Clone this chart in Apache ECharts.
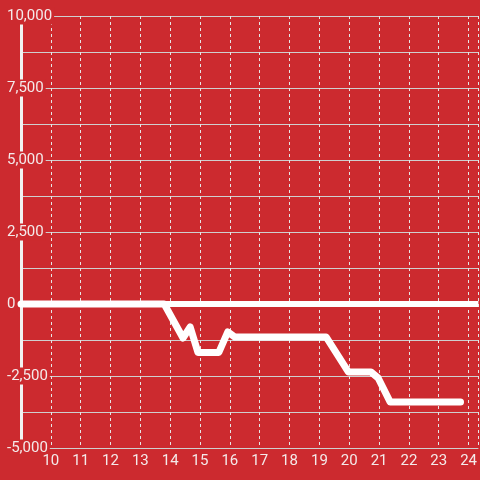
<!DOCTYPE html>
<html lang="en" style="height: 100%">
<head>
<meta charset="utf-8">
<title>Step line chart</title>
</head>
<body style="height: 100%; margin: 0">
<div id="container" style="width: 480px; height: 480px"></div>

<script type="text/javascript" src="https://cdn.jsdelivr.net/npm/echarts/dist/echarts.min.js"></script>

<script type="text/javascript">

var bgColor = '#cc2a2f';

// data
var xValues = [9, 13.8, 14.43, 14.67, 14.93, 15.63, 15.93, 16.17, 19.23, 19.97, 20.73, 20.97, 21.37, 21.6, 23.73];
var yValues = [0, 0, -1180, -800, -1680, -1680, -970, -1150, -1150, -2360, -2360, -2570, -3400, -3400, -3400];

var xMin = 9, xMax = 24.33;
var yMin = -5000, yMax = 10000;

var dom = document.getElementById('container');
var myChart = echarts.init(dom);
var option;

option = {
    backgroundColor: bgColor,
    animation: false,
    grid: {
        left: 21,
        right: 0,
        top: 16,
        bottom: 32
    },
    xAxis: {
        type: 'value',
        min: xMin,
        max: xMax,
        interval: 1,
        axisLine: { show: false },
        axisTick: { show: false },
        axisLabel: {
            color: '#f4eaea',
            fontFamily: 'Roboto',
            fontSize: 15,
            margin: 6,
            showMaxLabel: false,
            formatter: function (v) {
                return (v >= 10 && Math.abs(v - Math.round(v)) < 1e-6) ? String(Math.round(v)) : '';
            }
        },
        splitLine: {
            show: true,
            lineStyle: { color: '#e6e6e6', width: 1, type: [3, 3] }
        }
    },
    yAxis: {
        type: 'value',
        min: yMin,
        max: yMax,
        interval: 2500,
        axisLine: {
            show: true,
            lineStyle: { color: '#f2f2f2', width: 3 }
        },
        axisTick: { show: false },
        minorTick: { show: false, splitNumber: 2 },
        axisLabel: {
            color: '#f4eaea',
            fontFamily: 'Roboto',
            fontSize: 15,
            align: 'left',
            margin: 16,
            padding: [1, 2],
            backgroundColor: bgColor,
            formatter: function (v) {
                return v.toLocaleString('en-US');
            }
        },
        splitLine: {
            show: true,
            lineStyle: { color: '#cfcfcf', width: 1 }
        },
        minorSplitLine: {
            show: true,
            lineStyle: { color: '#cfcfcf', width: 1 }
        }
    },
    series: [
        {
            type: 'line',
            data: xValues.map(function (x, i) { return [x, yValues[i]]; }),
            showSymbol: false,
            lineStyle: { color: '#ffffff', width: 7, cap: 'round', join: 'round' },
            markLine: {
                silent: true,
                symbol: 'none',
                label: { show: false },
                lineStyle: { color: '#ffffff', width: 6, type: 'solid' },
                data: [{ yAxis: 0 }]
            }
        }
    ]
};

if (option && typeof option === 'object') {
    myChart.setOption(option);
}

window.addEventListener('resize', myChart.resize);
</script>
</body>
</html>
